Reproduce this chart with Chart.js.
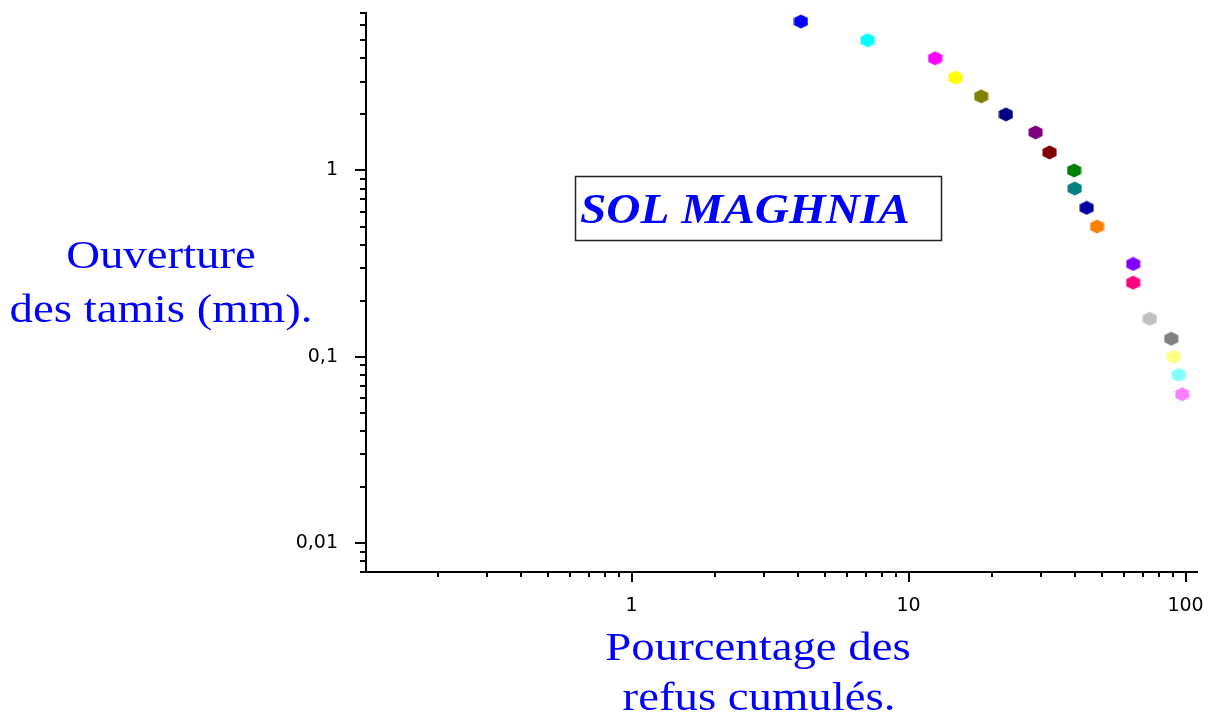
<!DOCTYPE html>
<html>
<head>
<meta charset="utf-8">
<script src="https://cdn.jsdelivr.net/npm/chart.js@4/dist/chart.umd.min.js"></script>
<style>
html,body{margin:0;padding:0;background:#fff;}
#wrap{width:1214px;height:716px;}
</style>
</head>
<body>
<div id="wrap"><canvas id="c" width="1214" height="716"></canvas></div>
<script>
// ---- data ----
const sieveOpenings = [6.3, 5, 4, 3.15, 2.5, 2, 1.6, 1.25, 1, 0.8, 0.63, 0.5, 0.315, 0.25, 0.16, 0.125, 0.1, 0.08, 0.063];
const cumulativeRetained = [4.09, 7.12, 12.47, 14.77, 18.29, 22.47, 28.75, 32.30, 39.58, 39.78, 43.96, 47.95, 64.7, 64.7, 74.3, 88.8, 90.7, 94.6, 97.3];
const pointColors = ['#0000FF','#00FFFF','#FF00FF','#FFFF00','#808000','#000080','#800080','#800000','#008000','#008080','#0000A0','#FF8000','#8000FF','#FF0080','#C0C0C0','#808080','#FFFF80','#80FFFF','#FF80FF'];
const xTickValues = [0.2,0.3,0.4,0.5,0.6,0.7,0.8,0.9,1,2,3,4,5,6,7,8,9,10,20,30,40,50,60,70,80,90,100];
const yTickValues = [0.007,0.008,0.009,0.01,0.02,0.03,0.04,0.05,0.06,0.07,0.08,0.09,0.1,0.2,0.3,0.4,0.5,0.6,0.7,0.8,0.9,1,2,3,4,5,6,7];
const xLabelValues = [1, 10, 100];
const xLabelTexts = ['1', '10', '100'];
const yLabelValues = [0.01, 0.1, 1];
const yLabelTexts = ['0,01', '0,1', '1'];
const xTitleLines = ['Pourcentage des', 'refus cumulés.'];
const yTitleLines = ['Ouverture', 'des tamis (mm).'];
const boxText = 'SOL MAGHNIA';

function hexagon(color) {
  const c = document.createElement('canvas');
  c.width = 15; c.height = 15;
  const g = c.getContext('2d');
  const w = 14, h = 14, cx = 7.5, cy = 7.5;
  g.fillStyle = color;
  g.beginPath();
  g.moveTo(cx, cy - h/2);
  g.lineTo(cx + w/2, cy - h/4);
  g.lineTo(cx + w/2, cy + h/4);
  g.lineTo(cx, cy + h/2);
  g.lineTo(cx - w/2, cy + h/4);
  g.lineTo(cx - w/2, cy - h/4);
  g.closePath();
  g.fill();
  return c;
}

function near(a, b) { return Math.abs(Math.log10(a) - Math.log10(b)) < 1e-6; }
function labelFor(v, vals, texts) {
  for (let i = 0; i < vals.length; i++) if (near(v, vals[i])) return texts[i];
  return '';
}
function zeroPad(s) { s.paddingTop = 0; s.paddingBottom = 0; s.paddingLeft = 0; s.paddingRight = 0; }

const tickPlugin = {
  id: 'tickMarks',
  afterDraw(chart) {
    const ctx = chart.ctx;
    const xs = chart.scales.x, ys = chart.scales.y;
    const area = chart.chartArea;
    ctx.save();
    ctx.strokeStyle = '#000';
    ctx.lineWidth = 2;
    xs.ticks.forEach(t => {
      const px = Math.round(xs.getPixelForValue(t.value));
      const major = labelFor(t.value, xLabelValues, xLabelTexts) !== '';
      ctx.beginPath();
      ctx.moveTo(px, area.bottom);
      ctx.lineTo(px, area.bottom + (major ? 10 : 5));
      ctx.stroke();
    });
    ys.ticks.forEach(t => {
      const py = Math.round(ys.getPixelForValue(t.value));
      const major = labelFor(t.value, yLabelValues, yLabelTexts) !== '';
      ctx.beginPath();
      ctx.moveTo(area.left, py);
      ctx.lineTo(area.left - (major ? 11 : 6), py);
      ctx.stroke();
    });
    ctx.restore();
  }
};

const textPlugin = {
  id: 'texts',
  afterDraw(chart) {
    const ctx = chart.ctx;
    ctx.save();
    ctx.fillStyle = '#0000FF';
    ctx.textBaseline = 'alphabetic';
    ctx.textAlign = 'center';
    ctx.font = '40px "Liberation Serif", "Times New Roman", serif';
    const drawStretched = (txt, cx, by, sx) => {
      ctx.save();
      ctx.translate(cx, by);
      ctx.scale(sx, 1);
      ctx.fillText(txt, 0, 0);
      ctx.restore();
    };
    drawStretched(yTitleLines[0], 161, 268, 1.17);
    drawStretched(yTitleLines[1], 161, 322, 1.17);
    drawStretched(xTitleLines[0], 758, 660, 1.17);
    drawStretched(xTitleLines[1], 759, 710, 1.17);
    // box
    ctx.strokeStyle = '#222';
    ctx.lineWidth = 1.5;
    ctx.strokeRect(575.5, 176.5, 366, 64);
    ctx.font = 'italic bold 43px "Liberation Serif", "Times New Roman", serif';
    ctx.textAlign = 'left';
    ctx.save();
    ctx.translate(580, 223);
    ctx.scale(1.1, 1);
    ctx.fillText(boxText, 0, 0);
    ctx.restore();
    ctx.restore();
  }
};

const points = cumulativeRetained.map((x, i) => ({ x: x, y: sieveOpenings[i] }));

new Chart(document.getElementById('c'), {
  type: 'scatter',
  data: {
    datasets: [{
      data: points,
      pointStyle: pointColors.map(hexagon),
      pointRadius: 7,
      pointHoverRadius: 7,
      showLine: false
    }]
  },
  options: {
    responsive: false,
    animation: false,
    events: [],
    layout: { autoPadding: false, padding: { top: 13, right: 17, left: 0, bottom: 0 } },
    plugins: { legend: { display: false }, tooltip: { enabled: false } },
    scales: {
      x: {
        type: 'logarithmic',
        min: 0.11, max: 110,
        afterFit(s) { s.height = 144; zeroPad(s); },
        afterBuildTicks(s) { s.ticks = xTickValues.map(v => ({ value: v })); },
        grid: { display: false, drawOnChartArea: false },
        border: { display: true, color: '#000', width: 2 },
        ticks: {
          autoSkip: false, maxRotation: 0, padding: 15,
          color: '#000',
          font: { family: '"DejaVu Sans", sans-serif', size: 19 },
          callback: (v) => labelFor(v, xLabelValues, xLabelTexts)
        }
      },
      y: {
        type: 'logarithmic',
        min: 0.007, max: 7,
        afterFit(s) { s.width = 366; zeroPad(s); },
        afterBuildTicks(s) { s.ticks = yTickValues.map(v => ({ value: v })); },
        grid: { display: false, drawOnChartArea: false },
        border: { display: true, color: '#000', width: 2 },
        ticks: {
          autoSkip: false, padding: 20,
          color: '#000',
          font: { family: '"DejaVu Sans", sans-serif', size: 19 },
          callback: (v) => labelFor(v, yLabelValues, yLabelTexts)
        }
      }
    }
  },
  plugins: [tickPlugin, textPlugin]
});
</script>
</body>
</html>
